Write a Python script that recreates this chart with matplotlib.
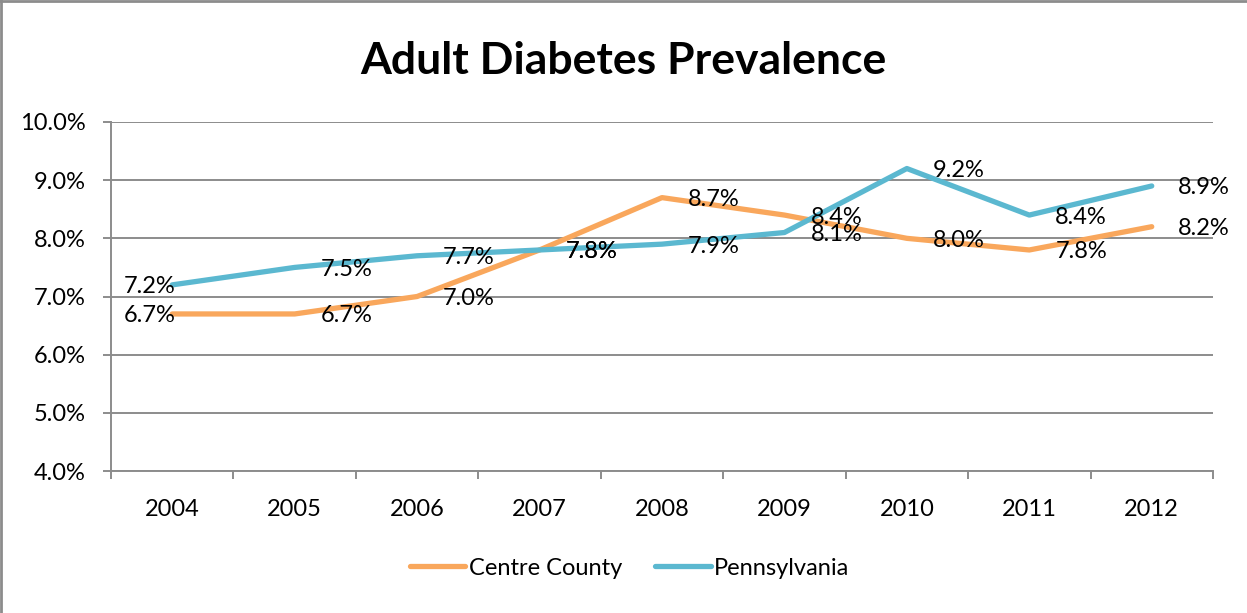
import matplotlib
matplotlib.use("Agg")
import matplotlib.pyplot as plt
from matplotlib.lines import Line2D
from matplotlib.ticker import FuncFormatter

plt.rcParams['font.family'] = ['Lato', 'DejaVu Sans']

years = ["2004", "2005", "2006", "2007", "2008", "2009", "2010", "2011", "2012"]
centre_county = [6.7, 6.7, 7.0, 7.8, 8.7, 8.4, 8.0, 7.8, 8.2]
pennsylvania = [7.2, 7.5, 7.7, 7.8, 7.9, 8.1, 9.2, 8.4, 8.9]

ORANGE = "#F9A75C"
BLUE = "#5BB8D0"
GRID = "#8C8C8C"

fig = plt.figure(figsize=(12.47, 6.13), dpi=100)
ax = fig.add_axes([0.089, 0.2316, 0.8837, 0.5694])

x = list(range(len(years)))
ax.plot(x, centre_county, color=ORANGE, lw=3.8, label="Centre County", solid_capstyle="round")
ax.plot(x, pennsylvania, color=BLUE, lw=3.8, label="Pennsylvania", solid_capstyle="round")

# value labels sit to the right of each point, the first ones to the left
for series in (centre_county, pennsylvania):
    for i, v in enumerate(series):
        if i == 0:
            ax.annotate(f"{v:.1f}%", (i, v), xytext=(3, -2), textcoords="offset pixels",
                        ha="right", va="center", fontsize=17, color="black")
        else:
            ax.annotate(f"{v:.1f}%", (i, v), xytext=(26, -2), textcoords="offset pixels",
                        ha="left", va="center", fontsize=17, color="black")

ax.set_xlim(-0.5, len(years) - 0.5)
ax.set_ylim(4.0, 10.0)
ax.set_yticks([4, 5, 6, 7, 8, 9, 10])
ax.yaxis.set_major_formatter(FuncFormatter(lambda v, _: f"{v:.1f}%"))
ax.grid(axis="y", color=GRID, lw=1.4)
ax.set_axisbelow(True)

# category boundaries get the tick marks, labels go in the middle
ax.set_xticks([i - 0.5 for i in range(len(years) + 1)])
ax.set_xticklabels([])
ax.set_xticks(x, minor=True)
ax.set_xticklabels(years, minor=True)
ax.tick_params(axis="x", which="major", length=6, width=1.4, color=GRID, direction="out")
ax.tick_params(axis="x", which="minor", length=0, pad=20, labelsize=17)
ax.tick_params(axis="y", length=6, width=1.4, color=GRID, pad=12, labelsize=17)

for side in ("top", "right"):
    ax.spines[side].set_visible(False)
for side in ("left", "bottom"):
    ax.spines[side].set_color(GRID)
    ax.spines[side].set_linewidth(1.4)

fig.text(0.5, 0.9, "Adult Diabetes Prevalence", ha="center", va="center",
         fontsize=32, fontweight="bold")

fig.legend(loc="center", bbox_to_anchor=(0.505, 0.073), ncol=2, frameon=False,
           fontsize=17, handlelength=2.35, handletextpad=0.15, columnspacing=1.4)

# chart frame
fig.add_artist(Line2D([0.0008, 0.0008], [0, 1], color="#8C8C8C", lw=2, transform=fig.transFigure))
fig.add_artist(Line2D([0, 1], [0.9985, 0.9985], color="#8C8C8C", lw=2, transform=fig.transFigure))

fig.savefig("out.png", dpi=100)
